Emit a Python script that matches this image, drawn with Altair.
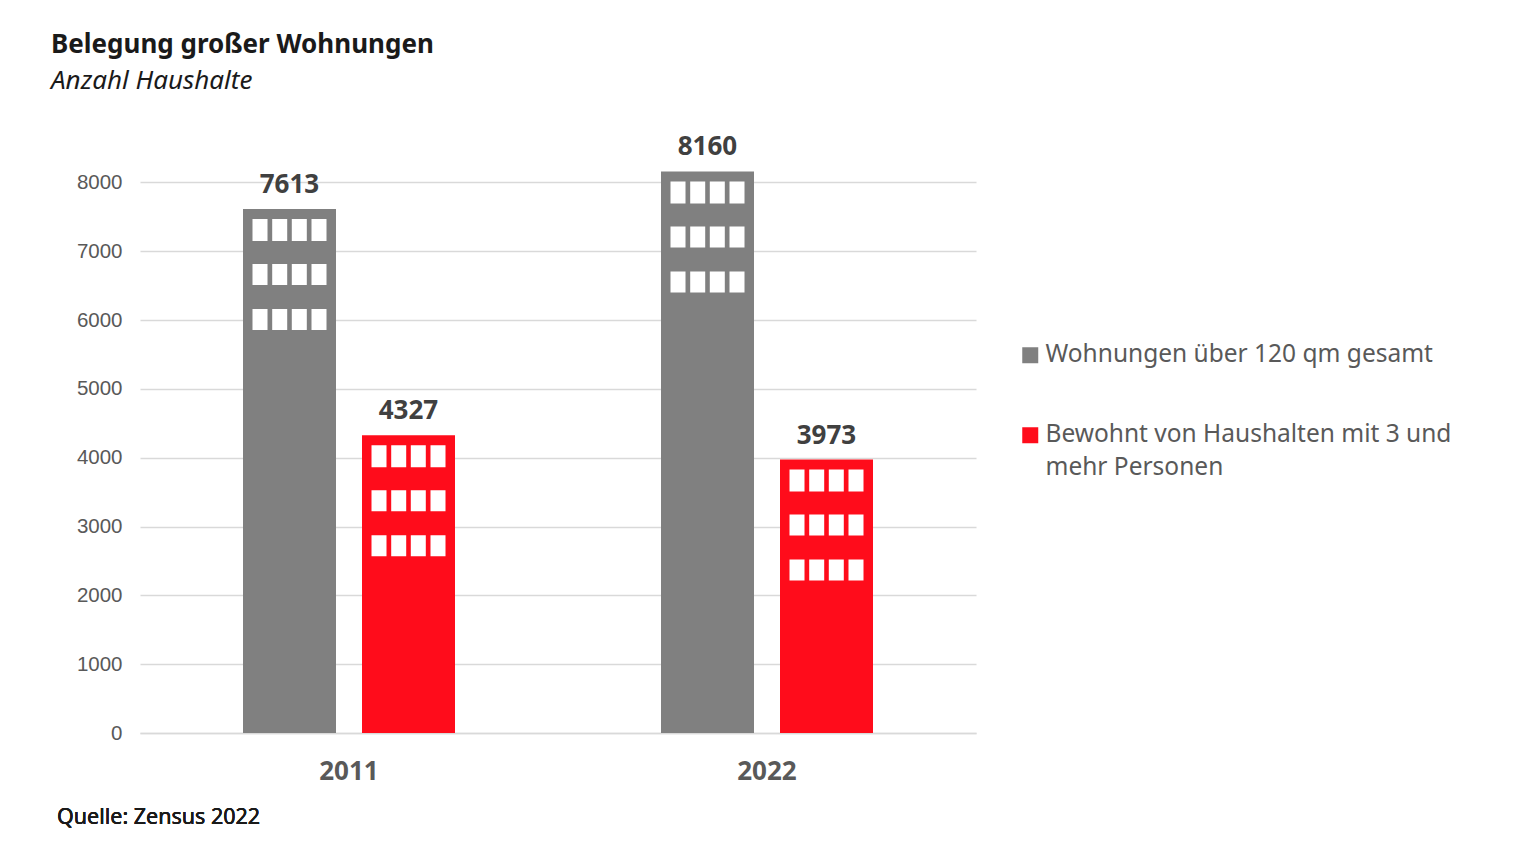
import altair as alt
import pandas as pd

years = ["2011", "2022"]
series = ["Wohnungen über 120 qm gesamt", "Bewohnt von Haushalten mit 3 und mehr Personen"]
gesamt = [7613, 8160]
gross_hh = [4327, 3973]
y_ticks = [0, 1000, 2000, 3000, 4000, 5000, 6000, 7000, 8000]

rows = []
for i, yr in enumerate(years):
    rows.append({"Jahr": yr, "Reihe": series[0], "Wert": gesamt[i]})
    rows.append({"Jahr": yr, "Reihe": series[1], "Wert": gross_hh[i]})
df = pd.DataFrame(rows)

GRAY = "#808080"
RED = "#ff0c1b"
FONT = "Noto Sans"

x_enc = alt.X("Jahr:N", sort=years, title=None,
              scale=alt.Scale(paddingInner=0, paddingOuter=0),
              axis=alt.Axis(labelAngle=0, labelFont=FONT, labelFontSize=26, labelFontWeight="bold",
                            labelColor="#595959", labelPadding=25, ticks=False,
                            domainColor="#d9d9d9", domainWidth=1.5, grid=False))
y_enc = alt.Y("Wert:Q", title=None,
              scale=alt.Scale(domain=[0, 8500], nice=False),
              axis=alt.Axis(values=y_ticks, format="d", labelFont="Liberation Sans", labelFontSize=20.5,
                            labelColor="#595959", labelPadding=18, ticks=False, domain=False,
                            gridColor="#d9d9d9", gridWidth=1.5))

legend_labels = ("datum.label == '" + series[1] + "' ? "
                 "['Bewohnt von Haushalten mit 3 und', 'mehr Personen'] : datum.label")

color_enc = alt.Color("Reihe:N", sort=series,
                      scale=alt.Scale(domain=series, range=[GRAY, RED]),
                      legend=alt.Legend(title=None, orient="none", legendX=878, legendY=195,
                                        symbolType="square", symbolSize=256, symbolStrokeWidth=0,
                                        labelFont=FONT, labelFontSize=24.5, labelColor="#595959",
                                        labelOffset=3, rowPadding=55, labelLimit=600,
                                        labelExpr=legend_labels, labelBaseline="middle"))

# horizontal pixel shift of each series' bar from the centre of its year band
series_shift = {series[0]: -59.5, series[1]: 59.5}
# window grid inside each bar (pixel offsets from bar centre / bar top)
win_cols = [-29.5, -9.8, 9.8, 29.5]
win_top, win_bottom = 10, 121
win_dash = [22, 23, 21, 24, 21, 300]

layers = []
for s in series:
    sub = alt.Chart(df).transform_filter(alt.datum.Reihe == s)
    so = series_shift[s]
    layers.append(sub.mark_bar(width=93, xOffset=so).encode(x=x_enc, y=y_enc, color=color_enc))
for s in series:
    sub = alt.Chart(df).transform_filter(alt.datum.Reihe == s)
    so = series_shift[s]
    for dx in win_cols:
        layers.append(
            sub.mark_rule(color="white", strokeWidth=15, strokeCap="butt", strokeDash=win_dash,
                          xOffset=so + dx, yOffset=win_top, y2Offset=win_bottom).encode(
                x=x_enc, y=y_enc, y2=alt.Y2("Wert:Q"))
        )
for s in series:
    sub = alt.Chart(df).transform_filter(alt.datum.Reihe == s)
    so = series_shift[s]
    layers.append(
        sub.mark_text(font=FONT, fontSize=26, fontWeight="bold", color="#404040",
                      baseline="alphabetic", dy=-16, xOffset=so).encode(
            x=x_enc, y=y_enc, text=alt.Text("Wert:Q", format="d"))
    )

source = alt.Chart(df).mark_text(text="Quelle: Zensus 2022", font=FONT, fontSize=21.5,
                                 color="#1a1a1a", align="left", baseline="alphabetic").encode(
    x=alt.value(-83), y=alt.value(676))
layers.append(source)

chart = alt.layer(*layers).properties(
    width=836, height=585,
    padding={"left": 132, "top": 140, "right": 520, "bottom": 110},
    autosize=alt.AutoSizeParams(type="none"),
    title=alt.Title("Belegung großer Wohnungen", subtitle="Anzahl Haushalte",
                    anchor="start", frame="group", dx=-89, font=FONT, fontSize=26,
                    fontWeight="bold", color="#1a1a1a", subtitleFont=FONT, subtitleFontSize=26,
                    subtitleFontStyle="italic", subtitleColor="#1a1a1a", subtitlePadding=10,
                    offset=40)
).configure(
    background="white", style={"guide-label": {"lineHeight": 33}}
).configure_view(stroke="transparent", strokeWidth=0)

chart.save("out.html", embed_options={"renderer": "svg", "actions": False})
